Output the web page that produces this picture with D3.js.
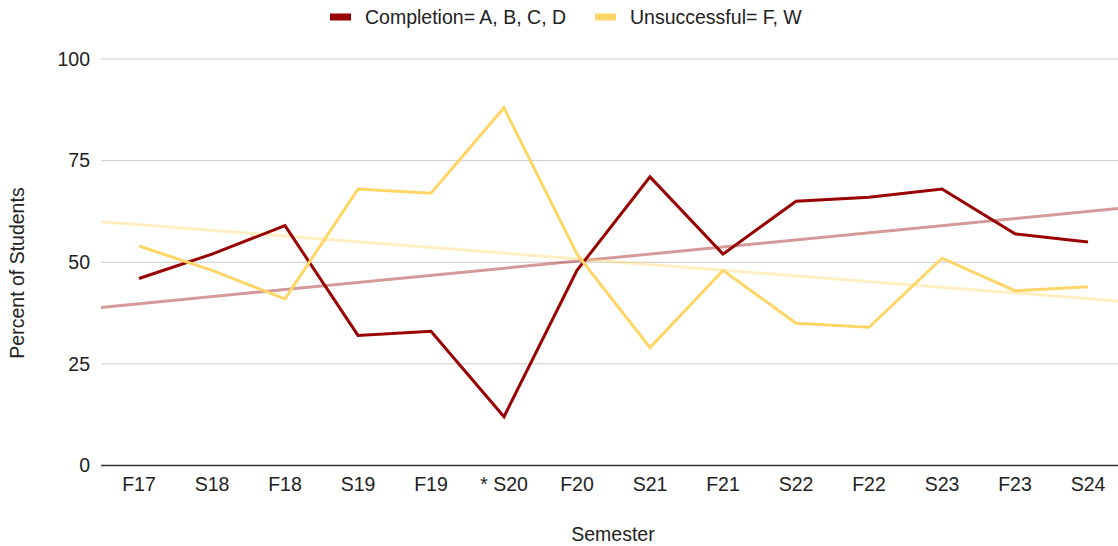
<!DOCTYPE html>
<html>
<head>
<meta charset="utf-8">
<script src="https://cdn.jsdelivr.net/npm/d3@7"></script>
<style>
    body { margin: 0; background: #fff; }
    svg { display: block; font-family: "Liberation Sans", Arial, sans-serif; }
</style>
</head>
<body>
<svg width="1118" height="546"></svg>
<script>
const semesters = ["F17", "S18", "F18", "S19", "F19", "* S20", "F20", "S21", "F21", "S22", "F22", "S23", "F23", "S24"];
const completion = [46, 52, 59, 32, 33, 12, 48, 71, 52, 65, 66, 68, 57, 55];
const unsuccessful = [54, 48, 41, 68, 67, 88, 52, 29, 48, 35, 34, 51, 43, 44];
const yTicks = [0, 25, 50, 75, 100];

document.addEventListener("DOMContentLoaded", function() {
    const svg = d3.select("svg");
    const width = +svg.attr("width");
    const plotLeft = 101;
    const plotTop = 59;
    const plotBottom = 465.5;
    const fontSize = "19.5px";

    const series = [
        { name: "Completion= A, B, C, D", values: completion, color: "#990000" },
        { name: "Unsuccessful= F, W", values: unsuccessful, color: "#ffd666" }
    ];

    // index scale - the chart area runs past the right edge of the picture
    const x = d3.scaleLinear().domain([0, semesters.length - 1]).range([139, 1088]);
    const y = d3.scaleLinear().domain([0, 100]).range([plotBottom, plotTop]);

    // gridlines
    svg.append("g")
        .selectAll("line")
        .data(yTicks.filter(d => d > 0))
        .enter()
        .append("line")
        .attr("x1", plotLeft)
        .attr("x2", width)
        .attr("y1", d => y(d))
        .attr("y2", d => y(d))
        .attr("stroke", "#cccccc")
        .attr("stroke-width", 1);

    // y tick labels
    svg.append("g")
        .selectAll("text")
        .data(yTicks)
        .enter()
        .append("text")
        .attr("x", 90)
        .attr("y", d => y(d))
        .attr("dy", "0.35em")
        .attr("text-anchor", "end")
        .attr("fill", "#222")
        .style("font-size", fontSize)
        .text(d => d);

    // baseline
    svg.append("line")
        .attr("x1", plotLeft)
        .attr("x2", width)
        .attr("y1", y(0))
        .attr("y2", y(0))
        .attr("stroke", "#333")
        .attr("stroke-width", 1.5);

    // x tick labels
    svg.append("g")
        .selectAll("text")
        .data(semesters)
        .enter()
        .append("text")
        .attr("x", (d, i) => x(i))
        .attr("y", 491)
        .attr("text-anchor", "middle")
        .attr("fill", "#222")
        .style("font-size", fontSize)
        .text(d => d);

    // axis titles
    svg.append("text")
        .attr("x", 613)
        .attr("y", 541)
        .attr("text-anchor", "middle")
        .attr("fill", "#222")
        .style("font-size", fontSize)
        .text("Semester");

    svg.append("text")
        .attr("transform", "translate(24,273) rotate(-90)")
        .attr("text-anchor", "middle")
        .attr("fill", "#222")
        .style("font-size", fontSize)
        .text("Percent of Students");

    // linear trendlines (least squares over the semester index)
    function trend(values) {
        const mx = d3.mean(values, (d, i) => i);
        const my = d3.mean(values);
        const sxy = d3.sum(values, (d, i) => (i - mx) * (d - my));
        const sxx = d3.sum(values, (d, i) => (i - mx) * (i - mx));
        const slope = sxy / sxx;
        return i => my + slope * (i - mx);
    }

    series.forEach(s => {
        const f = trend(s.values);
        const i0 = x.invert(plotLeft);
        const i1 = x.invert(width);
        svg.append("line")
            .attr("x1", x(i0))
            .attr("x2", x(i1))
            .attr("y1", y(f(i0)))
            .attr("y2", y(f(i1)))
            .attr("stroke", s.color)
            .attr("stroke-opacity", 0.4)
            .attr("stroke-width", 3);
    });

    // data lines
    const line = d3.line()
        .x((d, i) => x(i))
        .y(d => y(d));

    series.forEach(s => {
        svg.append("path")
            .datum(s.values)
            .attr("d", line)
            .attr("fill", "none")
            .attr("stroke", s.color)
            .attr("stroke-width", 3)
            .attr("stroke-linejoin", "miter");
    });

    // legend
    const legendX = [330, 595];
    const legend = svg.append("g")
        .selectAll("g")
        .data(series)
        .enter()
        .append("g")
        .attr("transform", (d, i) => `translate(${legendX[i]},17)`);

    legend.append("rect")
        .attr("x", 0)
        .attr("y", -3.5)
        .attr("width", 21)
        .attr("height", 7)
        .attr("fill", d => d.color);

    legend.append("text")
        .attr("x", 35)
        .attr("dy", "0.35em")
        .attr("fill", "#222")
        .style("font-size", fontSize)
        .text(d => d.name);
});
</script>
</body>
</html>
